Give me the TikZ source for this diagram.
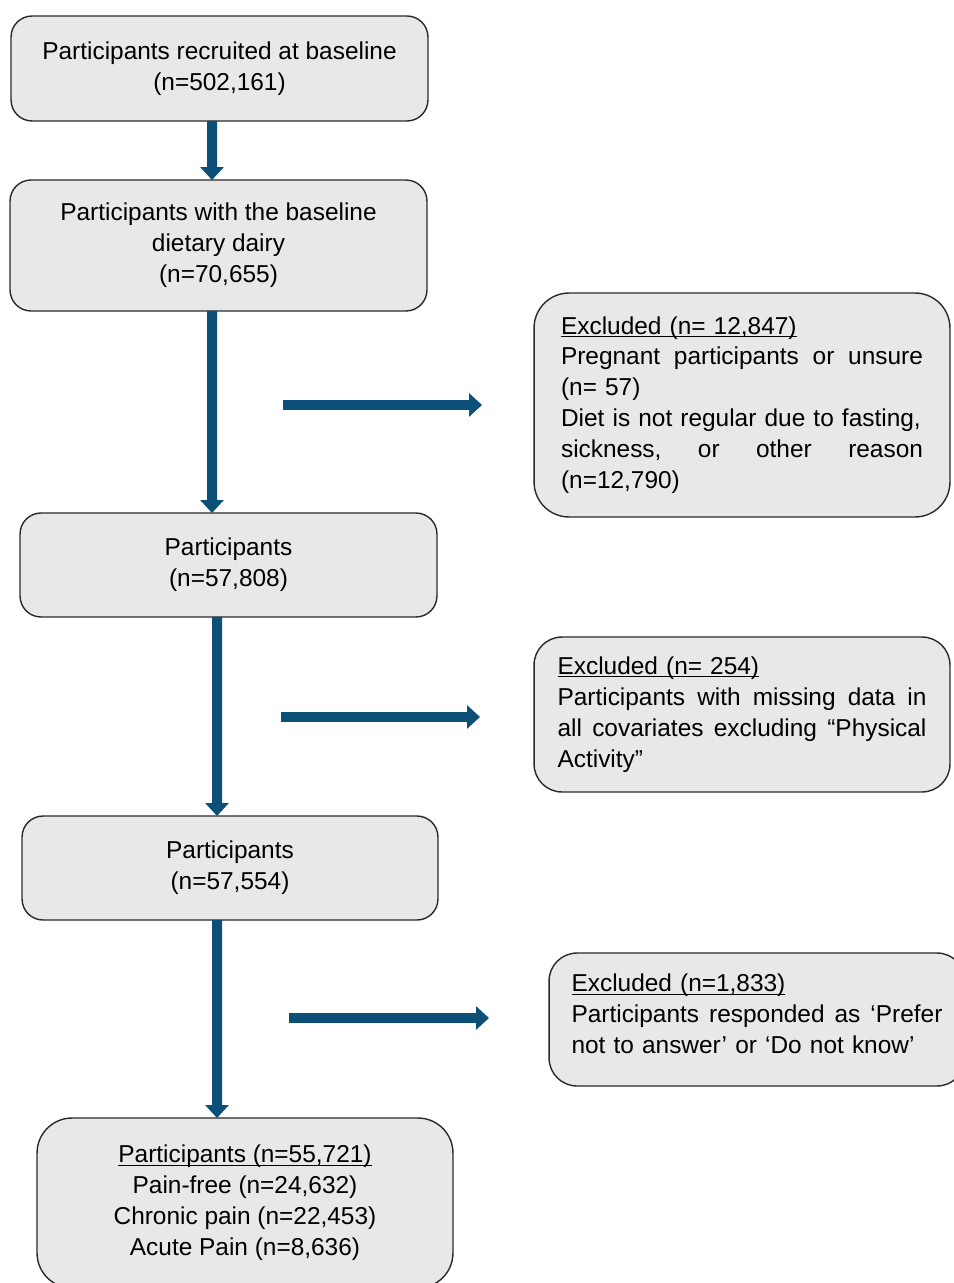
\documentclass[tikz,border=0pt]{standalone}
\usepackage{fontspec}
\setmainfont{Liberation Sans}
\usepackage{tikz}
\usetikzlibrary{arrows.meta,positioning}
\definecolor{flowblue}{HTML}{0C5078}
\definecolor{boxgray}{HTML}{E8E8E8}
\definecolor{boxline}{HTML}{2A2A2A}
\tikzstyle{sbox}=[draw=boxline, fill=boxgray, line width=0.8pt, rounded corners=0.42cm, align=center, inner sep=0pt, outer sep=0pt, font=\fontsize{13.9}{17.6}\selectfont]
\tikzstyle{xbox}=[sbox, rounded corners=0.7cm, align=left]
\tikzstyle{flow}=[-{Triangle[width=0.46cm,length=0.26cm]}, line width=0.2cm, draw=flowblue]
\newcommand{\spread}[2]{\leavevmode\hbox to #1{#2}}
\newcommand{\undl}[1]{\leavevmode\setbox0\hbox{#1}\rlap{\rule[-1.7pt]{\wd0}{0.7pt}}\box0}

\begin{document}
\begin{tikzpicture}
[x=0.02cm, y=-0.02cm]
\useasboundingbox (0,0) rectangle (953,1283);
\node[sbox, minimum width=8.34cm, minimum height=2.1cm] (1) at (219.5,68.5) {Participants recruited at baseline\\(n=502,161)};
\node[sbox, minimum width=8.34cm, minimum height=2.62cm] (2) at (218.5,245.5) {Participants with the baseline\\dietary dairy\\(n=70,655)};
\node[sbox, minimum width=8.34cm, minimum height=2.08cm] (3) at (228.5,565) {Participants\\(n=57,808)};
\node[sbox, minimum width=8.32cm, minimum height=2.08cm] (4) at (230,868) {Participants\\(n=57,554)};
\node[sbox, minimum width=8.32cm, minimum height=3.4cm, rounded corners=0.7cm] (5) at (245,1203) {\undl{Participants (n=55,721)}\\Pain-free (n=24,632)\\Chronic pain (n=22,453)\\Acute Pain (n=8,636)};
\node[xbox, minimum width=8.32cm, minimum height=4.48cm, text width=7.24cm] (6) at (742,405) {\undl{Excluded (n= 12,847)}\\\spread{7.24cm}{Pregnant\hfill participants\hfill or\hfill unsure}\\(n= 57)\\\spread{7.24cm}{Diet is not regular due to fasting,}\\\spread{7.24cm}{sickness,\hfill or\hfill other\hfill reason}\\(n=12,790)};
\node[xbox, minimum width=8.32cm, minimum height=3.1cm, text width=7.38cm, rounded corners=0.56cm] (7) at (742,714.5) {\undl{Excluded (n= 254)}\\\spread{7.38cm}{Participants\hfill with\hfill missing\hfill data\hfill in}\\\spread{7.38cm}{all\hfill covariates\hfill excluding\hfill “Physical}\\Activity”};
\node[xbox, minimum width=8.32cm, minimum height=2.66cm, text width=7.42cm, rounded corners=0.56cm] (8) at (757,1019.5) {\undl{Excluded (n=1,833)}\\\spread{7.42cm}{Participants\hfill responded\hfill as\hfill ‘Prefer}\\not to answer’ or ‘Do not know’\rule[-0.22cm]{0pt}{0pt}};
\coordinate (e1) at (283,405);
\coordinate (f1) at (482,405);
\coordinate (e2) at (281,717);
\coordinate (f2) at (480,717);
\coordinate (e3) at (289,1018);
\coordinate (f3) at (489,1018);
\path[every edge/.style={flow}]{
([xshift=-0.15cm]1.south) edge ([xshift=-0.13cm]2.north)
([xshift=-0.13cm]2.south) edge ([xshift=-0.33cm]3.north)
([xshift=-0.23cm]3.south) edge ([xshift=-0.26cm]4.north)
([xshift=-0.26cm]4.south) edge ([xshift=-0.56cm]5.north)
(e1) edge (f1)
(e2) edge (f2)
(e3) edge (f3)
};
\end{tikzpicture}
\end{document}
